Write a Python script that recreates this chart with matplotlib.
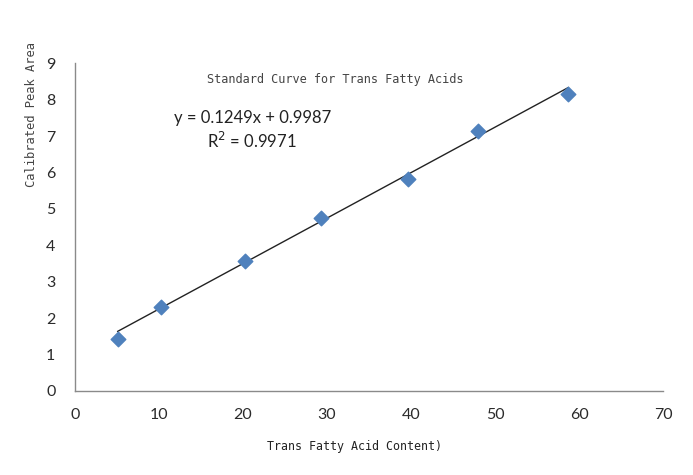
import matplotlib
matplotlib.use('Agg')
import matplotlib.pyplot as plt
import numpy as np

# trans fatty acid standard curve
content = [5.1, 10.2, 20.2, 29.3, 39.6, 48.0, 58.7]
peak_area = [1.43, 2.31, 3.57, 4.75, 5.82, 7.14, 8.16]
slope = 0.1249
intercept = 0.9987
r2 = 0.9971
xticks = [0, 10, 20, 30, 40, 50, 60, 70]
yticks = [0, 1, 2, 3, 4, 5, 6, 7, 8, 9]

fig = plt.figure(figsize=(6.93, 4.75), dpi=100)
ax = fig.add_axes([0.108, 0.177, 0.849, 0.690])

xs = np.array([min(content), max(content)])
ax.plot(xs, slope * xs + intercept, color='#222222', lw=1.0, zorder=2)
ax.scatter(content, peak_area, marker='D', s=55, color='#4F81BD', zorder=3)

ax.set_xlim(0, 70)
ax.set_ylim(0, 9)
ax.set_xticks(xticks)
ax.set_yticks(yticks)
ax.tick_params(length=0, labelsize=11.5, colors='#2b2b2b', pad=12)
for lab in ax.get_xticklabels() + ax.get_yticklabels():
    lab.set_family('Lato')
ax.tick_params(axis='y', pad=14)

for s in ['top', 'right']:
    ax.spines[s].set_visible(False)
for s in ['left', 'bottom']:
    ax.spines[s].set_color('#8a8a8a')
    ax.spines[s].set_linewidth(1.0)

ax.text(31, 8.55, 'Standard Curve for Trans Fatty Acids', ha='center', va='center',
        family='DejaVu Sans Mono', fontsize=8.6, color='#444444')
ax.text(21.1, 7.5, 'y = 0.1249x + 0.9987', ha='center', va='center',
        family='Lato', fontsize=12, color='#222222')
ax.text(21.0, 6.87, 'R$^2$ = 0.9971', ha='center', va='center',
        family='Lato', fontsize=12, color='#222222')

fig.text(0.512, 0.061, 'Trans Fatty Acid Content)', ha='center', va='center',
         family='DejaVu Sans Mono', fontsize=8.4, color='#222222')
fig.text(0.046, 0.758, 'Calibrated Peak Area', ha='center', va='center', rotation=90,
         family='DejaVu Sans Mono', fontsize=8.7, color='#444444')

fig.savefig('out.png', dpi=100)
